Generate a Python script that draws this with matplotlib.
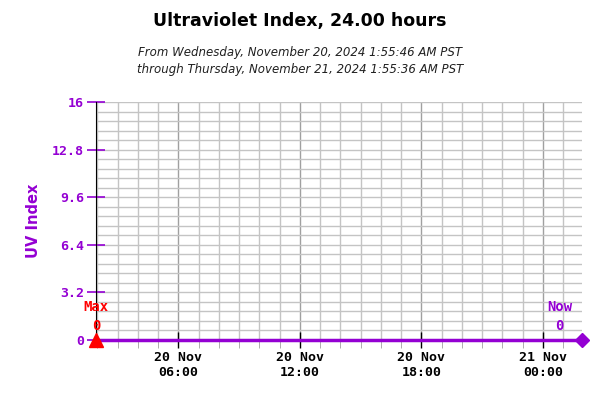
"""Ultraviolet index over the last 24 hours."""

from datetime import datetime

import matplotlib
matplotlib.use("Agg")
import matplotlib.dates as mdates
import matplotlib.pyplot as plt
from matplotlib.ticker import MultipleLocator

PURPLE = "#9400d3"
MONO = ["DejaVu Sans Mono"]

# Samples (all zero overnight / this time of year)
times = [
    datetime(2024, 11, 20, 1, 55, 46),
    datetime(2024, 11, 20, 7, 0, 0),
    datetime(2024, 11, 20, 12, 0, 0),
    datetime(2024, 11, 20, 17, 0, 0),
    datetime(2024, 11, 20, 22, 0, 0),
    datetime(2024, 11, 21, 1, 55, 36),
]
uv_index = [0, 0, 0, 0, 0, 0]
y_ticks = [0, 3.2, 6.4, 9.6, 12.8, 16]
y_tick_labels = ["0", "3.2", "6.4", "9.6", "12.8", "16"]
max_label = "Max"
now_label = "Now"

fig = plt.figure(figsize=(6, 4), dpi=100)
ax = fig.add_axes([0.16, 0.15, 0.81, 0.595])

ax.set_xlim(times[0], times[-1])
ax.set_ylim(0, 16)

# grid
ax.xaxis.set_major_locator(mdates.HourLocator(byhour=[0, 6, 12, 18]))
ax.xaxis.set_minor_locator(mdates.HourLocator())
ax.xaxis.set_major_formatter(mdates.DateFormatter("%d %b\n%H:%M"))
ax.set_yticks(y_ticks)
ax.set_yticklabels(y_tick_labels)
ax.yaxis.set_minor_locator(MultipleLocator(0.64))
ax.grid(which="minor", color="#c4c4c4", lw=1)
ax.grid(which="major", axis="x", color="#a0a0a0", lw=1)
ax.grid(which="major", axis="y", color="#c4c4c4", lw=1)
ax.set_axisbelow(True)

for s in ["top", "right", "bottom"]:
    ax.spines[s].set_visible(False)
ax.spines["left"].set_color("black")

ax.tick_params(axis="y", which="major", direction="inout", length=13, width=1.2,
               color=PURPLE, labelcolor=PURPLE, pad=2)
ax.tick_params(axis="y", which="minor", length=0)
ax.tick_params(axis="x", which="major", direction="inout", length=12, width=1,
               color="black", labelcolor="black", pad=2)
ax.tick_params(axis="x", which="minor", direction="out", length=6, color="#a0a0a0")
for lab in ax.get_yticklabels() + ax.get_xticklabels():
    lab.set_family(MONO)
    lab.set_fontsize(9.5)
    lab.set_fontweight("bold")

# data
ax.plot(times, uv_index, color=PURPLE, lw=2.5, clip_on=False, zorder=5)
ax.plot(times[-1], uv_index[-1], marker="D", color=PURPLE, ms=7, clip_on=False, zorder=6)
ax.plot(times[0], uv_index[0], marker="^", color="red", ms=10, clip_on=False, zorder=6)

ann = dict(textcoords="offset points", ha="center", va="center", family=MONO,
           fontsize=10, fontweight="bold")
ax.annotate(max_label, (times[0], 0), xytext=(0, 24), color="red", **ann)
ax.annotate(str(max(uv_index)), (times[0], 0), xytext=(0, 10), color="red", **ann)
ax.annotate(now_label, (times[-1], 0), xytext=(-16, 24), color=PURPLE, **ann)
ax.annotate(str(uv_index[-1]), (times[-1], 0), xytext=(-16, 10), color=PURPLE, **ann)

ax.set_ylabel("UV Index", color=PURPLE, fontsize=10.5, fontweight="bold", labelpad=8)

fig.text(0.5, 0.947, "Ultraviolet Index, 24.00 hours", ha="center", va="center",
         fontsize=12.5, fontweight="bold")
fig.text(0.5, 0.868, "From Wednesday, November 20, 2024 1:55:46 AM PST", ha="center",
         va="center", fontsize=8.5, style="italic", color="#202020")
fig.text(0.5, 0.825, "through Thursday, November 21, 2024 1:55:36 AM PST", ha="center",
         va="center", fontsize=8.5, style="italic", color="#202020")

fig.savefig("out.png", dpi=100)
